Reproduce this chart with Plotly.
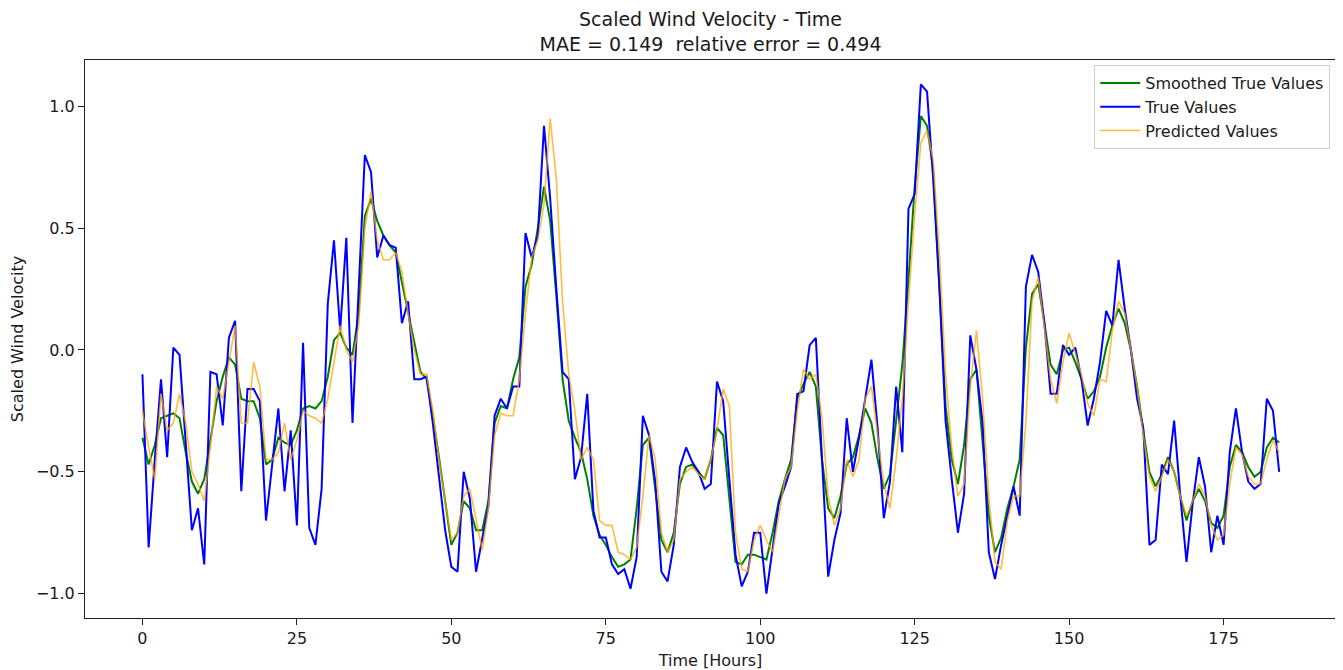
import plotly.graph_objects as go

hours = list(range(185))

true_values = [
    -0.10, -0.81, -0.45, -0.12, -0.44, 0.01, -0.02, -0.38, -0.74, -0.65,
    -0.88, -0.09, -0.10, -0.31, 0.05, 0.12, -0.58, -0.16, -0.16, -0.21,
    -0.70, -0.47, -0.24, -0.58, -0.33, -0.72, 0.03, -0.73, -0.80, -0.57,
    0.19, 0.45, 0.08, 0.46, -0.30, 0.25, 0.80, 0.73, 0.38, 0.47,
    0.43, 0.42, 0.11, 0.20, -0.12, -0.12, -0.11, -0.30, -0.52, -0.74,
    -0.89, -0.91, -0.50, -0.61, -0.91, -0.78, -0.64, -0.27, -0.20, -0.24,
    -0.15, -0.15, 0.48, 0.38, 0.47, 0.92, 0.62, 0.25, -0.09, -0.12,
    -0.53, -0.44, -0.18, -0.66, -0.77, -0.77, -0.88, -0.92, -0.90, -0.98,
    -0.85, -0.27, -0.35, -0.54, -0.91, -0.95, -0.80, -0.48, -0.40, -0.46,
    -0.50, -0.57, -0.55, -0.13, -0.21, -0.53, -0.84, -0.97, -0.91, -0.75,
    -0.75, -1.00, -0.82, -0.63, -0.56, -0.48, -0.18, -0.17, 0.02, 0.05,
    -0.45, -0.93, -0.78, -0.67, -0.28, -0.50, -0.36, -0.20, -0.04, -0.32,
    -0.69, -0.54, -0.15, -0.42, 0.58, 0.64, 1.09, 1.06, 0.70, 0.26,
    -0.29, -0.53, -0.75, -0.59, 0.06, -0.08, -0.30, -0.83, -0.94, -0.80,
    -0.68, -0.56, -0.68, 0.26, 0.39, 0.32, 0.11, -0.18, -0.18, 0.02,
    -0.02, 0.01, -0.12, -0.31, -0.20, -0.05, 0.16, 0.10, 0.37, 0.17,
    0.00, -0.20, -0.32, -0.80, -0.78, -0.47, -0.51, -0.29, -0.60, -0.87,
    -0.63, -0.44, -0.56, -0.83, -0.68, -0.80, -0.42, -0.24, -0.42, -0.54,
    -0.57, -0.55, -0.20, -0.25, -0.50,
]

smoothed_values = [
    -0.36, -0.47, -0.39, -0.28, -0.27, -0.26, -0.28, -0.42, -0.54, -0.59,
    -0.53, -0.36, -0.21, -0.11, -0.03, -0.06, -0.20, -0.21, -0.21, -0.28,
    -0.47, -0.45, -0.36, -0.38, -0.39, -0.33, -0.24, -0.23, -0.24, -0.21,
    -0.11, 0.04, 0.07, 0.01, -0.02, 0.15, 0.55, 0.62, 0.53, 0.47,
    0.43, 0.40, 0.28, 0.15, 0.03, -0.09, -0.12, -0.27, -0.44, -0.63,
    -0.80, -0.75, -0.62, -0.65, -0.74, -0.74, -0.62, -0.30, -0.23, -0.24,
    -0.12, -0.03, 0.26, 0.35, 0.50, 0.67, 0.53, 0.22, -0.12, -0.29,
    -0.36, -0.42, -0.53, -0.68, -0.76, -0.80, -0.85, -0.89, -0.88, -0.86,
    -0.65, -0.39, -0.36, -0.57, -0.78, -0.83, -0.75, -0.55, -0.48, -0.47,
    -0.50, -0.53, -0.45, -0.32, -0.35, -0.60, -0.87, -0.88, -0.84, -0.84,
    -0.85, -0.86, -0.75, -0.62, -0.53, -0.45, -0.20, -0.14, -0.09, -0.15,
    -0.45, -0.65, -0.69, -0.60, -0.47, -0.44, -0.35, -0.24, -0.30, -0.45,
    -0.57, -0.51, -0.29, -0.06, 0.29, 0.67, 0.96, 0.92, 0.74, 0.26,
    -0.23, -0.45, -0.55, -0.39, -0.12, -0.08, -0.38, -0.68, -0.83, -0.77,
    -0.65, -0.56, -0.45, 0.01, 0.23, 0.27, 0.11, -0.06, -0.10, 0.00,
    0.01, -0.05, -0.12, -0.20, -0.17, -0.11, 0.01, 0.10, 0.17, 0.11,
    0.00, -0.15, -0.33, -0.50, -0.56, -0.51, -0.44, -0.50, -0.60, -0.70,
    -0.62, -0.57, -0.62, -0.71, -0.73, -0.68, -0.48, -0.39, -0.42, -0.48,
    -0.52, -0.50, -0.40, -0.36, -0.38,
]

predicted_values = [
    -0.25, -0.40, -0.53, -0.18, -0.33, -0.30, -0.18, -0.30, -0.50, -0.55,
    -0.62, -0.40, -0.15, -0.20, -0.05, 0.10, -0.30, -0.30, -0.05, -0.15,
    -0.45, -0.45, -0.42, -0.30, -0.45, -0.37, -0.25, -0.27, -0.28, -0.30,
    -0.20, -0.05, 0.10, 0.00, -0.05, 0.10, 0.50, 0.65, 0.45, 0.37,
    0.37, 0.40, 0.32, 0.15, 0.00, -0.10, -0.10, -0.25, -0.45, -0.62,
    -0.78, -0.75, -0.60, -0.57, -0.70, -0.82, -0.65, -0.35, -0.26, -0.27,
    -0.27, -0.12, 0.15, 0.38, 0.45, 0.60, 0.95, 0.70, 0.20, -0.10,
    -0.25, -0.45, -0.40, -0.45, -0.70, -0.72, -0.72, -0.83, -0.84, -0.86,
    -0.81, -0.60, -0.35, -0.45, -0.75, -0.83, -0.78, -0.53, -0.50, -0.48,
    -0.51, -0.53, -0.45, -0.33, -0.16, -0.23, -0.75, -0.90, -0.91, -0.78,
    -0.72, -0.78, -0.83, -0.68, -0.53, -0.48, -0.25, -0.08, -0.12, -0.10,
    -0.28, -0.60, -0.72, -0.65, -0.45, -0.52, -0.45, -0.20, -0.15, -0.35,
    -0.55, -0.65, -0.45, -0.20, 0.20, 0.55, 0.85, 0.90, 0.78, 0.40,
    -0.10, -0.40, -0.60, -0.55, -0.15, 0.08, -0.20, -0.60, -0.87, -0.90,
    -0.70, -0.60, -0.60, -0.30, 0.20, 0.30, 0.10, -0.12, -0.22, -0.05,
    0.07, -0.02, -0.10, -0.22, -0.27, -0.12, -0.13, 0.08, 0.20, 0.15,
    0.00, -0.15, -0.35, -0.52, -0.58, -0.52, -0.45, -0.50, -0.60, -0.68,
    -0.62, -0.55, -0.60, -0.72, -0.78, -0.76, -0.55, -0.40, -0.43, -0.52,
    -0.55, -0.55, -0.45, -0.37, -0.42,
]

x_ticks = [0, 25, 50, 75, 100, 125, 150, 175]
y_ticks = [-1.0, -0.5, 0.0, 0.5, 1.0]

FONT = "DejaVu Sans"
TXT = "#1a1a1a"

fig = go.Figure()
fig.add_trace(go.Scatter(x=hours, y=smoothed_values, mode="lines",
                         name="Smoothed True Values",
                         line=dict(color="#008000", width=2)))
fig.add_trace(go.Scatter(x=hours, y=true_values, mode="lines",
                         name="True Values",
                         line=dict(color="#0000ff", width=2)))
fig.add_trace(go.Scatter(x=hours, y=predicted_values, mode="lines",
                         name="Predicted Values",
                         line=dict(color="rgba(255,165,0,0.75)", width=1.6)))

axis_common = dict(
    showline=True, mirror=True, linecolor="#222", linewidth=1,
    ticks="outside", ticklen=6, tickcolor="#222", tickwidth=1,
    showgrid=False, zeroline=False, automargin=False,
    tickfont=dict(family=FONT, size=16, color=TXT),
)

# The page body adds an 8 px offset, so the figure is sized to fit after it.
fig.update_layout(
    width=1335, height=662,
    margin=dict(l=77, r=7, t=52, b=52),
    paper_bgcolor="white", plot_bgcolor="white",
    font=dict(family=FONT, color=TXT),
    title=dict(
        text="Scaled Wind Velocity - Time<br>MAE = 0.149  relative error = 0.494",
        x=0.5, xref="paper", xanchor="center",
        y=0.973, yref="container", yanchor="top",
        font=dict(family=FONT, size=19, color=TXT),
    ),
    xaxis=dict(axis_common, range=[-9.3, 193.2], tickvals=x_ticks,
               title=dict(text="Time [Hours]", standoff=9,
                          font=dict(family=FONT, size=16, color=TXT))),
    yaxis=dict(axis_common, range=[-1.10, 1.19], tickvals=y_ticks,
               tickformat=".1f",
               title=dict(text="Scaled Wind Velocity", standoff=8,
                          font=dict(family=FONT, size=16, color=TXT))),
    legend=dict(
        x=0.9954, xanchor="right", y=0.991, yanchor="top",
        bgcolor="rgba(255,255,255,0.8)", bordercolor="#cccccc", borderwidth=1,
        font=dict(family=FONT, size=16, color=TXT),
        itemwidth=40,
    ),
    showlegend=True,
)

fig.write_html("out.html")
